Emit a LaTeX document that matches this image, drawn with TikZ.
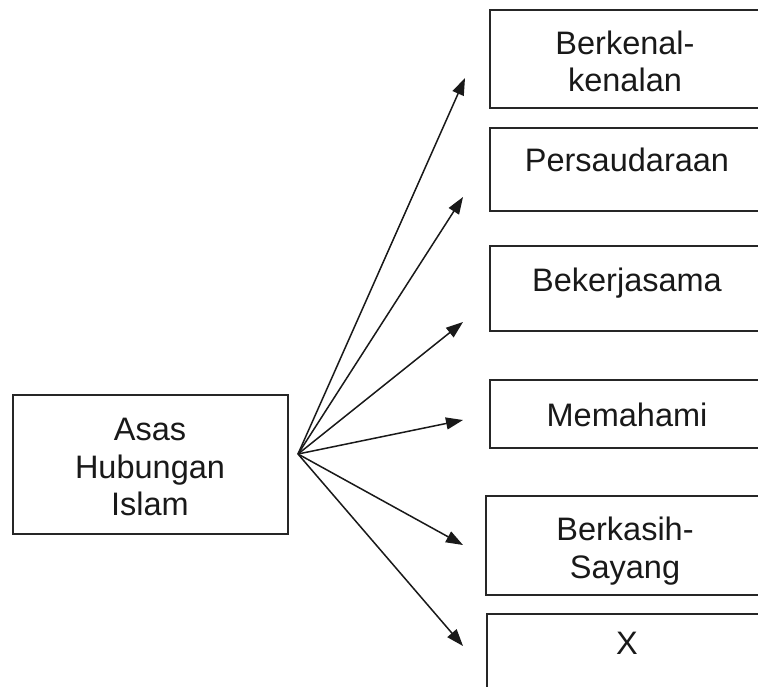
\documentclass[tikz,border=0pt]{standalone}
\usepackage{fontspec}
\setmainfont{Liberation Sans}
\usetikzlibrary{arrows.meta}
\begin{document}
\begin{tikzpicture}[x=0.5pt,y=-0.5pt,
  boxshape/.style={draw=black!85, line width=1pt},
  lbl/.style={inner sep=0pt, align=center, text=black!90,
    font=\fontsize{16.25pt}{18.75pt}\selectfont},
  arr/.style={draw=black!90, line width=0.75pt, -{Triangle[length=8.5pt,width=6pt]}}]
\useasboundingbox (0,0) rectangle (758,686);
\clip (0,0) rectangle (758,686);
\fill[white] (0,0) rectangle (758,686);
% boxes
\draw[boxshape] (13,395) rectangle (288,534);
\node[lbl] (src) at (150,467) {Asas\\Hubungan\\Islam};
\draw[boxshape] (490,10) rectangle (780,108);
\node[lbl] (b1) at (625,61.5) {Berkenal-\\kenalan};
\draw[boxshape] (490,128) rectangle (780,211);
\node[lbl] (b2) at (627,160) {Persaudaraan};
\draw[boxshape] (490,246) rectangle (780,331);
\node[lbl] (b3) at (627,283) {Bekerjasama};
\draw[boxshape] (490,380) rectangle (780,448);
\node[lbl] (b4) at (627,415) {Memahami};
\draw[boxshape] (486,496) rectangle (780,595);
\node[lbl] (b5) at (625,551) {Berkasih-\\Sayang};
\draw[boxshape] (487,614) rectangle (780,720);
\node[lbl] (b6) at (627,643) {X};
% fan
\coordinate (hub) at (298,454);
\coordinate (t1) at (465,78);
\coordinate (t2) at (463,197);
\coordinate (t3) at (463,322);
\coordinate (t4) at (463,420);
\coordinate (t5) at (463,545);
\coordinate (t6) at (463,646);
\foreach \t in {t1,t2,t3,t4,t5,t6} \draw[arr] (hub) -- (\t);
\end{tikzpicture}
\end{document}
